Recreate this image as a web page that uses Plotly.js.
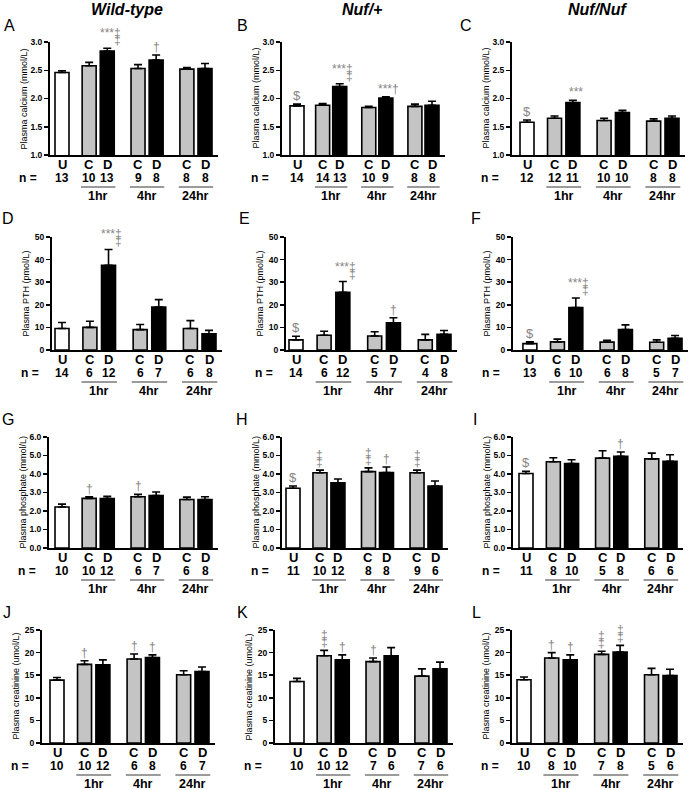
<!DOCTYPE html>
<html>
<head>
<meta charset="utf-8">
<script src="https://cdn.plot.ly/plotly-3.0.1.min.js"></script>
<style>html,body{margin:0;padding:0;background:#fff;}#chart{width:688px;height:790px;}</style>
</head>
<body>
<div id="chart"></div>
<script>
// ---------- categories ----------
const barLabels = ['U','C','D','C','D','C','D'];
const groupLabels = ['1hr','4hr','24hr'];
const columnTitles = ['Wild-type','Nuf/+','Nuf/Nuf'];
const panelLetters = ['A','B','C','D','E','F','G','H','I','J','K','L'];
const yTitles = ['Plasma calcium (mmol/L)','Plasma PTH (pmol/L)','Plasma phosphate (mmol/L)','Plasma creatinine (umol/L)'];

// ---------- data (mean, SEM, n) ----------
// Calcium
const caWT = [2.46, 2.58, 2.84, 2.53, 2.68, 2.52, 2.53];
const caWTerr = [0.03, 0.06, 0.05, 0.07, 0.09, 0.03, 0.09];
const caWTn = [13, 10, 13, 9, 8, 8, 8];
const caHet = [1.87, 1.88, 2.21, 1.84, 2.01, 1.86, 1.88];
const caHetErr = [0.03, 0.03, 0.05, 0.02, 0.02, 0.04, 0.07];
const caHetN = [14, 14, 13, 10, 9, 8, 8];
const caHom = [1.58, 1.65, 1.93, 1.61, 1.75, 1.60, 1.65];
const caHomErr = [0.04, 0.04, 0.04, 0.04, 0.04, 0.04, 0.04];
const caHomN = [12, 12, 11, 10, 10, 8, 8];
// PTH
const pthWT = [9.5, 10.0, 37.5, 9.0, 19.0, 9.5, 7.2];
const pthWTerr = [2.7, 2.7, 7.0, 2.3, 3.3, 3.5, 1.5];
const pthWTn = [14, 6, 12, 6, 7, 6, 8];
const pthHet = [4.5, 6.5, 25.5, 6.2, 12.0, 4.5, 7.0];
const pthHetErr = [1.6, 1.8, 4.8, 1.9, 2.3, 2.4, 1.6];
const pthHetN = [14, 6, 12, 5, 7, 4, 8];
const pthHom = [2.8, 3.6, 18.8, 3.5, 9.0, 3.4, 5.2];
const pthHomErr = [0.8, 1.2, 4.2, 0.8, 2.1, 1.1, 1.2];
const pthHomN = [13, 6, 10, 6, 8, 5, 7];
// Phosphate
const phWT = [2.22, 2.68, 2.67, 2.77, 2.83, 2.62, 2.62];
const phWTerr = [0.15, 0.09, 0.12, 0.13, 0.20, 0.13, 0.15];
const phWTn = [10, 10, 12, 6, 7, 6, 8];
const phHet = [3.23, 4.07, 3.53, 4.13, 4.08, 4.07, 3.35];
const phHetErr = [0.12, 0.14, 0.20, 0.20, 0.30, 0.14, 0.27];
const phHetN = [11, 10, 12, 8, 8, 9, 6];
const phHom = [4.03, 4.66, 4.57, 4.86, 4.96, 4.82, 4.69];
const phHomErr = [0.12, 0.22, 0.20, 0.40, 0.23, 0.31, 0.35];
const phHomN = [11, 8, 10, 5, 8, 6, 6];
// Creatinine
const crWT = [13.9, 17.4, 17.3, 18.6, 18.9, 15.1, 15.8];
const crWTerr = [0.6, 0.8, 1.1, 1.1, 0.6, 0.9, 1.0];
const crWTn = [10, 10, 12, 6, 8, 6, 7];
const crHet = [13.6, 19.3, 18.4, 18.0, 19.3, 14.8, 16.4];
const crHetErr = [0.7, 1.2, 1.1, 0.8, 1.8, 1.6, 1.5];
const crHetN = [10, 10, 12, 7, 6, 7, 6];
const crHom = [14.0, 18.8, 18.4, 19.6, 20.1, 15.1, 14.9];
const crHomErr = [0.6, 1.2, 1.1, 0.7, 1.5, 1.4, 1.4];
const crHomN = [10, 8, 10, 7, 8, 5, 6];

// ---------- significance marks: [bar index, text, stacked second ‡ under last char] ----------
const sigA = [[2,'***‡',1],[4,'†',0]];
const sigB = [[0,'$',0],[2,'***‡',1],[4,'***†',0]];
const sigC = [[0,'$',0],[2,'***',0]];
const sigD = [[2,'***‡',1]];
const sigE = [[0,'$',0],[2,'***‡',1],[4,'†',0]];
const sigF = [[0,'$',0],[2,'***‡',1]];
const sigG = [[1,'†',0],[3,'†',0]];
const sigH = [[0,'$',0],[1,'‡',1],[3,'‡',1],[4,'†',0],[5,'‡',1]];
const sigI = [[0,'$',0],[4,'†',0]];
const sigJ = [[1,'†',0],[3,'†',0],[4,'†',0]];
const sigK = [[1,'‡',1],[2,'†',0],[3,'†',0]];
const sigL = [[1,'†',0],[2,'†',0],[3,'‡',1],[4,'‡',1]];

// ---------- assemble ----------
const panelData = [
  [caWT, caWTerr, caWTn, sigA], [caHet, caHetErr, caHetN, sigB], [caHom, caHomErr, caHomN, sigC],
  [pthWT, pthWTerr, pthWTn, sigD], [pthHet, pthHetErr, pthHetN, sigE], [pthHom, pthHomErr, pthHomN, sigF],
  [phWT, phWTerr, phWTn, sigG], [phHet, phHetErr, phHetN, sigH], [phHom, phHomErr, phHomN, sigI],
  [crWT, crWTerr, crWTn, sigJ], [crHet, crHetErr, crHetN, sigK], [crHom, crHomErr, crHomN, sigL]
];

// ---------- layout geometry (pixels) ----------
const W = 688, H = 790;
const rowPx = [[42,155],[237,350],[437,548],[630,743]];
const rowAxis = [
  {range:[1,3], dtick:0.5, fmt:'.1f'},
  {range:[0,50], dtick:10, fmt:'d'},
  {range:[0,6], dtick:1, fmt:'.1f'},
  {range:[0,25], dtick:5, fmt:'d'}
];
// [y-axis x, first bar centre, last bar centre]
const panelGeom = [
  [50,62,205],[282,297,432],[512,527,672],
  [52,62,209],[286,296,444],[513,530,676],
  [49,62,205],[282,293,435],[513,526,670],
  [42,57,202],[275,297,440],[512,524,670]
];
const letterPx = [[9,26],[242,26],[466,26],[8,219],[244,219],[476,219],[8,419],[242,419],[475,419],[7,612],[242,612],[476,612]];
const titleX = [127,362,597];

const FONT = 'Liberation Sans, Arial, Helvetica, sans-serif';
const SIGC = '#858585';
const barFill = ['#ffffff','#c4c4c4','#000000','#c4c4c4','#000000','#c4c4c4','#000000'];
const pos = barLabels.map((_, i) => i === 0 ? 0 : 1.5 + Math.floor((i-1)/2)*2.7 + ((i-1)%2));
const lastPos = pos[pos.length-1];
const py = p => 1 - p / H;
const px = p => p / W;

const traces = [];
const layout = {
  width: W, height: H,
  margin: {l:0, r:0, t:0, b:0},
  paper_bgcolor: '#fff', plot_bgcolor: 'rgba(0,0,0,0)',
  showlegend: false,
  font: {family: FONT, color: '#000'},
  annotations: [], shapes: []
};

panelData.forEach((pd, p) => {
  const [vals, errs, ns, sigs] = pd;
  const row = Math.floor(p/3);
  const k = p === 0 ? '' : String(p+1);
  const [L, u, d] = panelGeom[p];
  const s = (d - u) / lastPos;        // px per unit
  const R = d + 13;
  const xr = [(L - u)/s, (R - u)/s];
  const [top, bot] = rowPx[row];
  const ra = rowAxis[row];

  traces.push({
    type: 'bar', x: pos, y: vals, width: 14/s,
    xaxis: 'x'+k, yaxis: 'y'+k,
    marker: {color: barFill, line: {color: '#000', width: 1.6}},
    error_y: {type: 'data', symmetric: false, array: errs, arrayminus: errs.map(() => 0),
              color: '#000', thickness: 1.6, width: 4},
    hoverinfo: 'skip'
  });

  layout['xaxis'+k] = {
    domain: [px(L), px(R)], range: xr, anchor: 'y'+k,
    showticklabels: false, ticks: '',
    showline: true, linewidth: 2, linecolor: '#000',
    showgrid: false, zeroline: false, fixedrange: true
  };
  layout['yaxis'+k] = {
    domain: [py(bot), py(top)], range: ra.range, anchor: 'x'+k,
    dtick: ra.dtick, tick0: ra.range[0], tickformat: ra.fmt,
    ticks: 'outside', ticklen: 4, tickwidth: 1.5, tickcolor: '#000',
    tickfont: {family: FONT, size: 8.5, weight: 'bold', color: '#000'},
    showline: true, linewidth: 2, linecolor: '#000',
    showgrid: false, zeroline: false, fixedrange: true
  };

  const A = layout.annotations;
  // y title
  A.push({xref:'paper', yref:'paper', x: px(L-27), y: py((top+bot)/2), text: yTitles[row],
          textangle: -90, showarrow: false, xanchor:'center', yanchor:'middle',
          font: {family: FONT, size: 9, color: '#000'}});
  // category labels (U / C / D) along the x axis
  barLabels.forEach((c, i) => {
    A.push({xref:'x'+k, yref:'paper', x: pos[i], y: py(bot+9), text: c, showarrow:false,
            xanchor:'center', yanchor:'middle', font:{family: FONT, size: 13, weight:'bold', color:'#000'}});
  });
  // n =
  A.push({xref:'paper', yref:'paper', x: px(L-22), y: py(bot+23), text: 'n =', showarrow:false,
          xanchor:'center', yanchor:'middle', font:{family: FONT, size: 12, weight:'bold', color:'#000'}});
  ns.forEach((n, i) => {
    A.push({xref:'x'+k, yref:'paper', x: pos[i], y: py(bot+23), text: String(n), showarrow:false,
            xanchor:'center', yanchor:'middle', font:{family: FONT, size: 12, weight:'bold', color:'#000'}});
  });
  // group labels + underline
  groupLabels.forEach((g, gi) => {
    const c = pos[1+gi*2], dd = pos[2+gi*2];
    A.push({xref:'x'+k, yref:'paper', x: (c+dd)/2, y: py(bot+41), text: g, showarrow:false,
            xanchor:'center', yanchor:'middle', font:{family: FONT, size: 12.5, weight:'bold', color:'#000'}});
    layout.shapes.push({type:'line', xref:'x'+k, yref:'paper', x0: c-0.45, x1: dd+0.45,
            y0: py(bot+32), y1: py(bot+32), line:{color:'#7a7a7a', width:1.5}});
  });
  // significance
  sigs.forEach(([i, t, stack]) => {
    const yv = vals[i] + errs[i];
    const sz = t === '$' ? 13 : 12;
    A.push({xref:'x'+k, yref:'y'+k, x: pos[i], y: yv, text: t, showarrow:false,
            xanchor:'center', yanchor:'bottom', xshift: t.length > 1 ? 3 : 0, yshift: stack ? 6 : -1,
            font:{family: FONT, size: sz, color: SIGC}});
    if (stack) {
      const hidden = t.slice(0, -1);
      const txt = (hidden ? '<span style="color:rgba(0,0,0,0)">' + hidden + '</span>' : '') + '‡';
      A.push({xref:'x'+k, yref:'y'+k, x: pos[i], y: yv, text: txt, showarrow:false,
              xanchor:'center', yanchor:'bottom', xshift: t.length > 1 ? 3 : 0, yshift: -1,
              font:{family: FONT, size: sz, color: SIGC}});
    }
  });
  // panel letter
  A.push({xref:'paper', yref:'paper', x: px(letterPx[p][0]), y: py(letterPx[p][1]), text: panelLetters[p],
          showarrow:false, xanchor:'center', yanchor:'middle', font:{family: FONT, size: 16, color:'#000'}});
});

columnTitles.forEach((t, c) => {
  layout.annotations.push({xref:'paper', yref:'paper', x: px(titleX[c]), y: py(10), text: '<b><i>' + t + '</i></b>',
     showarrow:false, xanchor:'center', yanchor:'middle', font:{family: FONT, size: 16, color:'#000'}});
});

Plotly.newPlot('chart', traces, layout, {staticPlot: true, displayModeBar: false});
</script>
</body>
</html>
